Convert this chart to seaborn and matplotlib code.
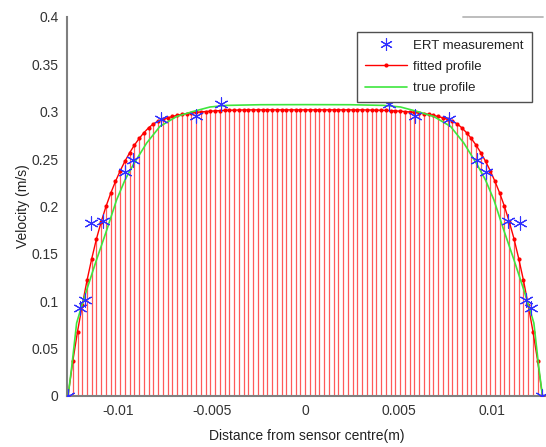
import numpy as np
import pandas as pd
import matplotlib
matplotlib.use("Agg")
import matplotlib.pyplot as plt
import seaborn as sns
from matplotlib.lines import Line2D

# ---- data (metres / m/s) ----
fit_x_mm = [-12.700, -12.446, -12.192, -11.938, -11.684, -11.430, -11.176, -10.922, -10.668, -10.414,
            -10.160, -9.906, -9.652, -9.398, -9.144, -8.890, -8.636, -8.382, -8.128, -7.874,
            -7.620, -7.366, -7.112, -6.858, -6.604, -6.350, -6.096, -5.842, -5.588, -5.334,
            -5.080, -4.826, -4.572, -4.318, -4.064, -3.810, -3.556, -3.302, -3.048, -2.794,
            -2.540, -2.286, -2.032, -1.778, -1.524, -1.270, -1.016, -0.762, -0.508, -0.254,
            0.000,
            0.254, 0.508, 0.762, 1.016, 1.270, 1.524, 1.778, 2.032, 2.286, 2.540,
            2.794, 3.048, 3.302, 3.556, 3.810, 4.064, 4.318, 4.572, 4.826, 5.080,
            5.334, 5.588, 5.842, 6.096, 6.350, 6.604, 6.858, 7.112, 7.366, 7.620,
            7.874, 8.128, 8.382, 8.636, 8.890, 9.144, 9.398, 9.652, 9.906, 10.160,
            10.414, 10.668, 10.922, 11.176, 11.430, 11.684, 11.938, 12.192, 12.446, 12.700]
fit_v = [0.0, 0.0365, 0.068, 0.096, 0.122, 0.145, 0.166, 0.184, 0.200, 0.214,
         0.2264, 0.2377, 0.2478, 0.2568, 0.2648, 0.2718, 0.2779, 0.2831, 0.2872, 0.2902,
         0.2920, 0.2936, 0.2950, 0.2962, 0.2972, 0.2980, 0.2987, 0.2993, 0.2998, 0.3002,
         0.3006, 0.3009, 0.3012, 0.3014, 0.3016, 0.3017, 0.3018, 0.3019, 0.302, 0.302,
         0.302, 0.302, 0.302, 0.302, 0.302, 0.302, 0.302, 0.302, 0.302, 0.302,
         0.302,
         0.302, 0.302, 0.302, 0.302, 0.302, 0.302, 0.302, 0.302, 0.302, 0.302,
         0.302, 0.302, 0.3019, 0.3018, 0.3017, 0.3016, 0.3014, 0.3012, 0.3009, 0.3006,
         0.3002, 0.2998, 0.2993, 0.2987, 0.2980, 0.2972, 0.2962, 0.2950, 0.2936, 0.2920,
         0.2902, 0.2872, 0.2831, 0.2779, 0.2718, 0.2648, 0.2568, 0.2478, 0.2377, 0.2264,
         0.214, 0.200, 0.184, 0.166, 0.145, 0.122, 0.096, 0.068, 0.0365, 0.0]

true_x_mm = [-12.7, -12.5, -12.24, -12.0, -11.7, -11.17, -10.63, -10.1, -9.65, -9.21,
             -8.49, -7.78, -6.88, -6.0, -5.1, -4.2, -2.4, 0.0,
             2.4, 4.2, 5.1, 6.0, 6.88, 7.78, 8.49, 9.21, 9.65, 10.1,
             10.63, 11.17, 11.7, 12.0, 12.24, 12.5, 12.7]
true_v = [0.0, 0.031, 0.077, 0.093, 0.112, 0.144, 0.175, 0.207, 0.228, 0.244,
          0.267, 0.2845, 0.295, 0.3003, 0.305, 0.3067, 0.3074, 0.3075,
          0.3074, 0.3067, 0.305, 0.3003, 0.295, 0.2845, 0.267, 0.244, 0.228, 0.207,
          0.175, 0.144, 0.112, 0.093, 0.077, 0.031, 0.0]

ert_x_mm = [-12.7, -12.07, -11.8, -11.48, -10.83, -9.66, -9.21, -7.71, -5.85, -4.49,
            4.49, 5.85, 7.71, 9.21, 9.66, 10.83, 11.48, 11.8, 12.07, 12.7]
ert_v = [0.0, 0.0925, 0.1015, 0.183, 0.1845, 0.2365, 0.249, 0.292, 0.2955, 0.308,
         0.308, 0.2955, 0.292, 0.249, 0.2365, 0.1845, 0.183, 0.1015, 0.0925, 0.0]

xticks = [-0.01, -0.005, 0, 0.005, 0.01]
xtick_labels = ["-0.01", "-0.005", "0", "0.005", "0.01"]
yticks = [0, 0.05, 0.1, 0.15, 0.2, 0.25, 0.3, 0.35, 0.4]
ytick_labels = ["0", "0.05", "0.1", "0.15", "0.2", "0.25", "0.3", "0.35", "0.4"]

fit_df = pd.DataFrame({"x": np.array(fit_x_mm) / 1000.0, "v": fit_v})
true_df = pd.DataFrame({"x": np.array(true_x_mm) / 1000.0, "v": true_v})
ert_df = pd.DataFrame({"x": np.array(ert_x_mm) / 1000.0, "v": ert_v})

# ---- style ----
sns.set_style("white")
plt.rcParams["font.family"] = ["Liberation Sans", "DejaVu Sans"]

fig = plt.figure(figsize=(5.46, 4.47), dpi=100)
ax = fig.add_axes([0.1222, 0.1141, 0.8778, 0.8479])

RED = "#ff0000"
BLUE = "#3030ff"
GREEN = "#3ee63e"
ax.vlines(fit_df["x"], 0, fit_df["v"], colors="#ff5a5a", linewidth=0.9, zorder=2)
sns.lineplot(data=fit_df, x="x", y="v", ax=ax, color=RED, linewidth=1.0,
             marker="o", markersize=3.0, markeredgewidth=0, sort=False, zorder=3)
sns.lineplot(data=true_df, x="x", y="v", ax=ax, color=GREEN, linewidth=1.2,
             sort=False, zorder=4)
ast = (6, 2, 0)
sns.scatterplot(data=ert_df, x="x", y="v", ax=ax, marker=ast, s=90,
                color=BLUE, linewidth=0.8, zorder=5)

ax.set_xlim(-0.01277, 0.01289)
ax.set_ylim(0, 0.4)
ax.set_xticks(xticks)
ax.set_xticklabels(xtick_labels)
ax.set_yticks(yticks)
ax.set_yticklabels(ytick_labels)

GRAY = "#7f7f7f"
for s in ["top", "right"]:
    ax.spines[s].set_visible(False)
for s in ["left", "bottom"]:
    ax.spines[s].set_color(GRAY)
    ax.spines[s].set_linewidth(1.5)
ax.plot([0.827, 0.994], [1, 1], transform=ax.transAxes, color="#b8b8b8",
        linewidth=1.3, clip_on=False)

ax.tick_params(axis="both", direction="in", length=4, width=1, color="#404040",
               labelsize=10, labelcolor="#333333", pad=6)
ax.set_xlabel("Distance from sensor centre(m)", fontsize=10, color="#222222", labelpad=8)
ax.set_ylabel("Velocity (m/s)", fontsize=10, color="#222222", labelpad=1)

handles = [
    Line2D([], [], linestyle="none", marker=ast, markersize=9, color=BLUE,
           markeredgewidth=0.8),
    Line2D([], [], color=RED, linewidth=1.0, marker="o", markersize=3,
           markevery=[1], markeredgewidth=0),
    Line2D([], [], color=GREEN, linewidth=1.2),
]
leg = fig.legend(handles, ["ERT measurement", "fitted profile", "true profile"],
                 loc="upper left", bbox_to_anchor=(357 / 546, 1 - 32 / 447),
                 borderaxespad=0,
                 fontsize=9.5, frameon=True, fancybox=False, handlelength=3.2,
                 handletextpad=0.5, labelspacing=0.68, borderpad=0.58,
                 edgecolor="#505050", framealpha=1)
leg.get_frame().set_linewidth(1.0)
for t in leg.get_texts():
    t.set_color("#222222")

fig.savefig("out.png", dpi=100)
